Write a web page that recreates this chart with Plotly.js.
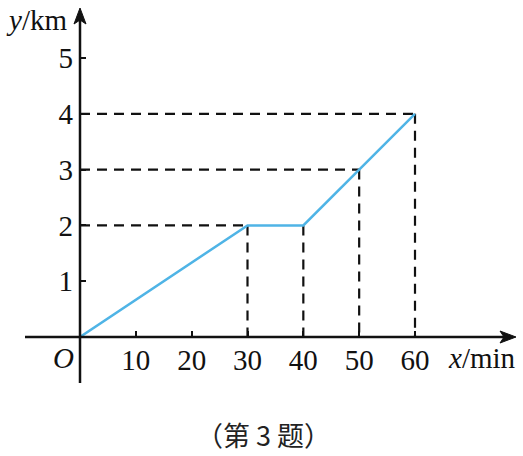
<!DOCTYPE html>
<html>
<head>
<meta charset="utf-8">
<script src="https://cdn.plot.ly/plotly-3.0.1.min.js"></script>
<style>html,body{margin:0;padding:0;background:#fff;}#chart{width:523px;height:456px;}</style>
</head>
<body>
<div id="chart"></div>
<script>
// Data
const timeMin = [0, 30, 40, 50, 60];
const distKm = [0, 2, 2, 3, 4];
const xTicks = [10, 20, 30, 40, 50, 60];
const yTicks = [1, 2, 3, 4, 5];
const xLabel = '<i>x</i>/min';
const yLabel = '<i>y</i>/km';
const caption = '（第 3 题）';

// Dashed guide lines built from the data
const gx = [], gy = [];
const seenY = new Set();
for (let i = 1; i < timeMin.length; i++) {
  const X = timeMin[i], Y = distKm[i];
  gx.push(X, X, null); gy.push(Y, 0, null);
  if (!seenY.has(Y)) {
    seenY.add(Y);
    gx.push(0, X, null); gy.push(Y, Y, null);
  }
}

const W = 523, H = 456;
const L = 80, R = 8, T = 8, B = 119;
const pw = W - L - R, ph = H - T - B;
const px = v => (v - L) / pw;
const py = v => (H - B - v) / ph;

const traces = [
  {x: gx, y: gy, mode: 'lines', line: {color: '#111', width: 2.2, dash: '10px,7px'}, hoverinfo: 'skip', cliponaxis: false},
  {x: timeMin, y: distKm, mode: 'lines', line: {color: '#4fb4e6', width: 2.5}, cliponaxis: false}
];

const font = {family: '"Liberation Serif", "Times New Roman", serif', size: 29, color: '#111'};

const layout = {
  width: W, height: H,
  margin: {l: L, r: R, t: T, b: B, pad: 0},
  paper_bgcolor: '#fff', plot_bgcolor: '#fff',
  showlegend: false,
  xaxis: {range: [0, 60 * pw / 335], tickvals: xTicks, ticktext: xTicks.map(String),
    ticks: 'inside', ticklen: 6, tickwidth: 2, tickcolor: '#111',
    showgrid: false, zeroline: false, showline: false, tickfont: font, ticklabelstandoff: 3, fixedrange: true},
  yaxis: {range: [0, 5 * ph / 279], tickvals: yTicks, ticktext: yTicks.map(String),
    ticks: 'inside', ticklen: 6, tickwidth: 2, tickcolor: '#111',
    showgrid: false, zeroline: false, showline: false, tickfont: font, ticklabelstandoff: 6, fixedrange: true},
  shapes: [
    {type: 'line', xref: 'paper', yref: 'paper', x0: px(25), x1: px(505), y0: 0, y1: 0, line: {color: '#111', width: 2.5}},
    {type: 'line', xref: 'paper', yref: 'paper', x0: 0, x1: 0, y0: py(383), y1: py(18), line: {color: '#111', width: 2.5}},
    {type: 'path', xref: 'paper', yref: 'paper', fillcolor: '#111', line: {color: '#111', width: 1},
      path: `M ${px(516)} 0 L ${px(500)} ${py(331)} L ${px(504)} 0 L ${px(500)} ${py(343)} Z`},
    {type: 'path', xref: 'paper', yref: 'paper', fillcolor: '#111', line: {color: '#111', width: 1},
      path: `M 0 ${py(8)} L ${px(74)} ${py(24)} L 0 ${py(20)} L ${px(86)} ${py(24)} Z`}
  ],
  annotations: [
    {xref: 'paper', yref: 'paper', x: px(69), y: py(20), xanchor: 'right', yanchor: 'middle', text: yLabel, showarrow: false, font: font},
    {xref: 'paper', yref: 'paper', x: px(446), y: py(358), xanchor: 'left', yanchor: 'middle', text: xLabel, showarrow: false, font: font},
    {xref: 'paper', yref: 'paper', x: px(63), y: py(358), xanchor: 'center', yanchor: 'middle', text: '<i>O</i>', showarrow: false, font: font},
    {xref: 'paper', yref: 'paper', x: px(263), y: py(434), xanchor: 'center', yanchor: 'middle', text: caption, showarrow: false,
      font: {family: '"Noto Sans CJK SC", sans-serif', size: 27, color: '#222'}}
  ]
};

Plotly.newPlot('chart', traces, layout, {displayModeBar: false, staticPlot: true});
</script>
</body>
</html>
